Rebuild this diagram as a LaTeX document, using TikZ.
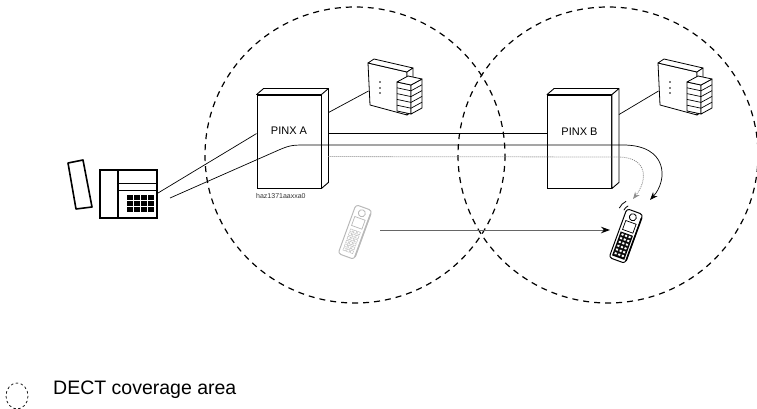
\documentclass[tikz,border=0pt]{standalone}
\usepackage{fontspec}
\setmainfont{Liberation Sans}
\usetikzlibrary{arrows.meta,calc}

\tikzset{
  coverage/.style={dash pattern=on 6pt off 5pt, line width=1.2pt},
  pinx/.style={draw, line width=0.9pt, fill=white, minimum width=64pt, minimum height=93pt, inner sep=0pt},
  wire/.style={line width=0.7pt},
  radiolink/.style={draw=black!45, dash pattern=on 1pt off 1pt, line width=0.8pt},
  pics/basestation/.style={code={
    \draw[line width=0.8pt, fill=white, line join=round] (0,0) -- (39,9) -- (39,52) -- (2,42) -- cycle;
    \draw[line width=0.8pt, fill=white, line join=round] (0,0) -- (6,-4) -- (45,5) -- (39,9) -- cycle;
    \draw[line width=0.8pt, fill=white, line join=round] (39,9) -- (45,5) -- (45,48) -- (39,52) -- cycle;
    \foreach \d in {19,25,30} \fill (12,\d) circle (0.9);
    \draw[line width=0.8pt, fill=white, line join=round] (29,19) -- (43,22) -- (43,51) -- (29,48) -- cycle;
    \draw[line width=0.8pt, fill=white, line join=round] (43,22) -- (54,16) -- (54,45) -- (43,51) -- cycle;
    \draw[line width=0.8pt, fill=white, line join=round] (29,19) -- (40,13) -- (54,16) -- (43,22) -- cycle;
    \foreach \i in {1,...,4} \draw[line width=0.7pt] (29,19+5.8*\i) -- (43,22+5.8*\i) -- (54,16+5.8*\i);
    \coordinate (-port) at (0.5,28);
  }},
  pics/handset/.style 2 args={code={
    \draw[#1, line width=1pt, rounded corners=3pt, fill=white] (-8.5,-26) rectangle (8.5,26);
    \draw[#1, line width=1.6pt, line cap=round] (8.5,-22) -- (8.5,23);
    \draw[#1, line width=0.8pt] (0,-20) circle (3.5);
    \draw[#1, line width=0.7pt] (-5.5,-14.5) rectangle (5.5,-5);
    \fill[#2] (-6.5,-2.5) rectangle (6.5,23);
    \foreach \r in {0,...,5} \foreach \c in {-1,0,1}
      \filldraw[draw=#1, fill=white, line width=0.4pt] (\c*3.8-1.4,\r*4-1.5) rectangle ++(2.8,2.6);
  }},
}

\begin{document}
\begin{tikzpicture}[x=1pt, y=-1pt]
\useasboundingbox (0,0) rectangle (757,409);

\draw[coverage] (355,155) ellipse [x radius=150, y radius=148];
\draw[coverage] (608,155) ellipse [x radius=150, y radius=148];

\draw[line width=1.6pt, line join=round] (68,163) -- (83,160) -- (92,207) -- (76,209) -- cycle;
\draw[line width=1.6pt] (100,170) rectangle (157,218);
\draw[line width=1.6pt] (118,170) -- (118,218);
\draw[line width=0.8pt] (118,183) -- (157,183) (118,190) -- (157,190);
\foreach \c in {0,...,3} \foreach \r in {0,1,2}
  \fill (127+\c*7,195+\r*6) rectangle ++(5.5,4.5);
\coordinate (phone-a) at (158,193);
\coordinate (phone-b) at (170,198);

\node[pinx] (pinxA) at (289,141.5) {};
\node[pinx] (pinxB) at (579.5,141.5) {};
\foreach \p in {pinxA,pinxB} {
  \draw[line width=0.9pt, fill=white, line join=round] (\p.north west) -- ++(7,-6) -- ($(\p.north east)+(7,-6)$) -- ($(\p.south east)+(7,-6)$) -- (\p.south east) -- (\p.north east) -- cycle;
  \draw[line width=0.9pt] (\p.north east) -- ++(7,-6);
}
\node[font=\fontsize{11}{13}\selectfont] (pinxA-label) at (289,131) {PINX A};
\node[font=\fontsize{11}{13}\selectfont] (pinxB-label) at (579.5,132) {PINX B};
\node[anchor=west, font=\fontsize{7}{8}\selectfont, inner sep=0pt, text=black!80] (tagA) at (256,196) {haz1371aaxxa0};

\pic (baseA) at (368,63) {basestation};
\pic (baseB) at (658,63) {basestation};

\pic[rotate=-20] (hsOld) at (355,232) {handset={gray!55}{white}};
\pic[rotate=-20] (hsNew) at (626,236) {handset={black}{black}};
\coordinate (move-from) at (380,230);
\coordinate (move-to) at (610,230);
\coordinate (call-a) at (650,200);
\coordinate (call-b) at (633,199);

\draw[wire] ($(pinxA.north east)+(7,18)$) -- (baseA-port);
\draw[wire] ($(pinxB.north east)+(7,20)$) -- (baseB-port);
\draw[wire, line width=0.9pt] ($(pinxA.north east)+(7,39)$) -- ($(pinxB.north west)+(0,39)$);
\draw[wire] (phone-a) -- ($(pinxA.north west)+(0,39)$);
\draw[wire, -{Stealth[length=8pt,width=6pt]}] (phone-b) -- (272,153) .. controls (290,145) .. (308,145) -- (623,145) .. controls (668,145) and (668,180) .. (call-a);
\draw[radiolink, -{Stealth[length=7pt,width=5.5pt]}] ($(pinxA.north east)+(7,62)$) -- (618,157) .. controls (648,157) and (648,180) .. (call-b);
\draw[draw=black!60, line width=1pt, -{Stealth[length=9pt,width=6.5pt,color=black]}] (move-from) -- (move-to);
\foreach \r in {9,14}
  \draw[line width=0.8pt] ([shift={(205:\r)}]632,214) arc[start angle=205, end angle=245, radius=\r];

\draw[dash pattern=on 2.5pt off 2.5pt, line width=0.7pt] (17,396) ellipse [x radius=11, y radius=13];
\node[anchor=west, font=\fontsize{19.5}{23}\selectfont, inner sep=0pt] (legend) at (53,390) {DECT coverage area};
\end{tikzpicture}
\end{document}
